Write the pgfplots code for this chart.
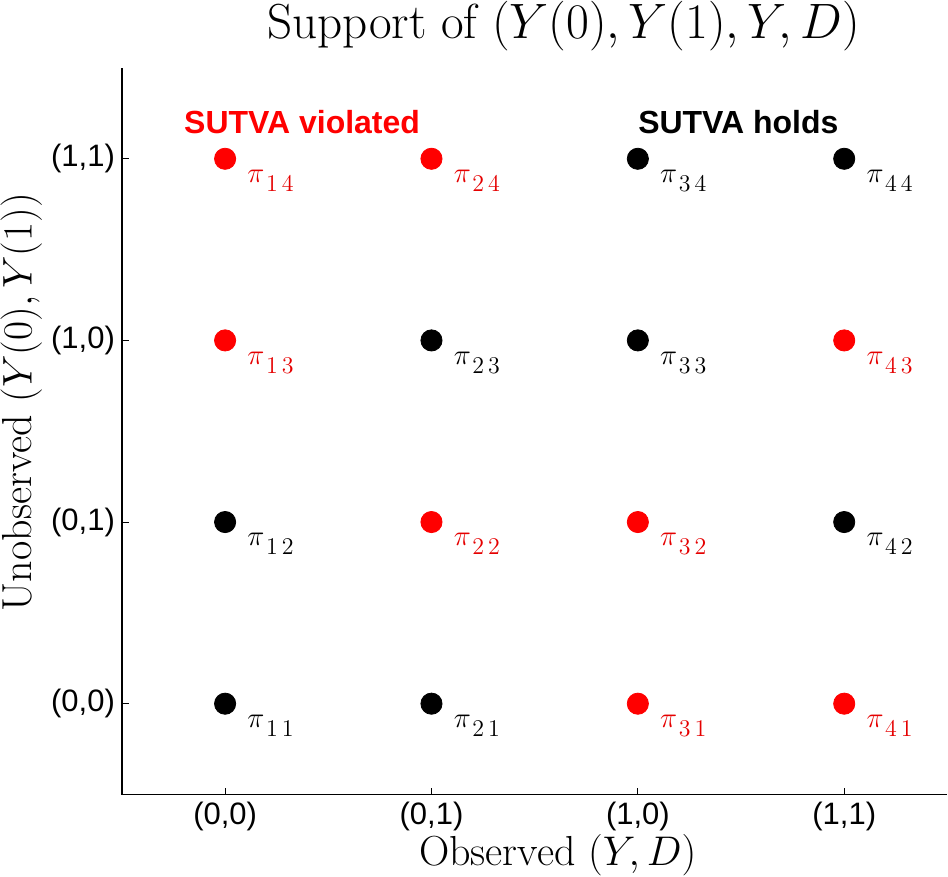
\documentclass[border=0pt]{standalone}
\usepackage{pgfplots}
\pgfplotsset{compat=1.18}
\usepackage{fontspec}
\setsansfont{Liberation Sans}
\newcommand{\pilab}[1]{$\pi$\kern0.8pt\raisebox{-4.5pt}{\fontsize{11.5}{12}\selectfont$#1$}}
\begin{document}
\begin{tikzpicture}
\begin{axis}[
 scale only axis, width=413pt, height=363.5pt,
 xmin=-0.5, xmax=3.5, ymin=-0.5, ymax=3.5,
 axis x line=bottom, axis y line=left,
 axis line style={-, line width=0.6pt},
 tick align=inside, major tick length=3.5pt,
 tick style={line width=0.5pt, black},
 xtick={0,1,2,3}, ytick={0,1,2,3},
 xticklabels={(0,0),(0,1),(1,0),(1,1)},
 yticklabels={(0,0),(0,1),(1,0),(1,1)},
 ticklabel style={font=\sffamily\fontsize{15.5}{18}\selectfont},
 title={Support of $(Y(0),Y(1),Y,D)$},
 title style={font=\fontsize{24.6}{27}\selectfont, inner sep=0pt, at={(rel axis cs:0.535,1.058)}, anchor=center, yshift=-6pt},
 xlabel={Observed $(Y,D)$},
 ylabel={Unobserved $(Y(0),Y(1))$},
 label style={font=\fontsize{21}{24}\selectfont, inner sep=0pt},
 xlabel style={at={(rel axis cs:0.528,-0.084)}, anchor=center},
 ylabel style={at={(rel axis cs:-0.122,0.54)}, anchor=center},
 clip=false,
]
\addplot[only marks, mark=*, mark size=5.3pt, color=red, mark options={fill=red, draw=red},
 nodes near coords={\pilab{\pgfplotspointmeta}}, point meta=explicit symbolic,
 nodes near coords style={anchor=west, inner sep=0pt, xshift=11pt, yshift=-11pt, font=\fontsize{15.5}{18}\selectfont, text=red!90!black}]
 table[meta=lab] {
x y lab
0 3 1\,4
1 3 2\,4
0 2 1\,3
3 2 4\,3
1 1 2\,2
2 1 3\,2
2 0 3\,1
3 0 4\,1
};
\addplot[only marks, mark=*, mark size=5.3pt, color=black, mark options={fill=black, draw=black},
 nodes near coords={\pilab{\pgfplotspointmeta}}, point meta=explicit symbolic,
 nodes near coords style={anchor=west, inner sep=0pt, xshift=11pt, yshift=-11pt, font=\fontsize{15.5}{18}\selectfont, text=black}]
 table[meta=lab] {
x y lab
0 0 1\,1
1 0 2\,1
0 1 1\,2
3 1 4\,2
1 2 2\,3
2 2 3\,3
2 3 3\,4
3 3 4\,4
};
\node[anchor=west, text=red, font=\sffamily\bfseries\fontsize{16}{19}\selectfont, inner sep=0pt] at (axis cs:-0.2,3.2) {SUTVA violated};
\node[anchor=west, text=black, font=\sffamily\bfseries\fontsize{16}{19}\selectfont, inner sep=0pt] at (axis cs:2.0,3.2) {SUTVA holds};
\path ([xshift=-61pt,yshift=-41pt]rel axis cs:0,0) rectangle ([yshift=34pt]rel axis cs:1,1);
\end{axis}
\end{tikzpicture}
\end{document}
